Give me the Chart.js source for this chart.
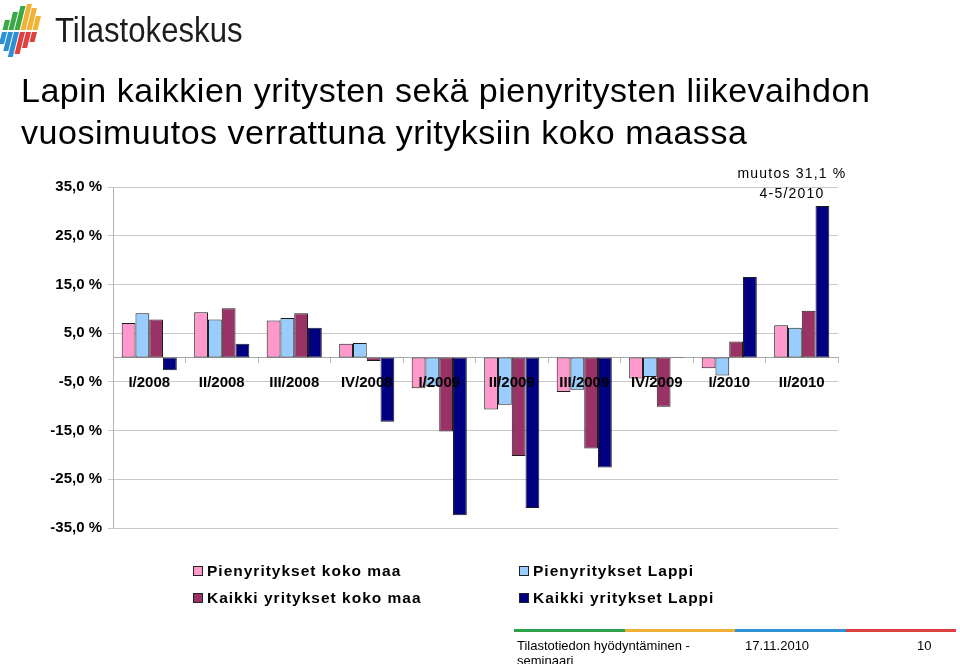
<!DOCTYPE html>
<html>
<head>
<meta charset="utf-8">
<script src="https://cdn.jsdelivr.net/npm/chart.js@4.4.1/dist/chart.umd.min.js"></script>
<style>
  html, body { margin: 0; padding: 0; background: #fff; }
  body { width: 960px; height: 664px; position: relative; overflow: hidden;
         font-family: "Liberation Sans", Arial, sans-serif; color: #000; }
  #chart { position: absolute; left: 0; top: 0; }
  .abs { position: absolute; white-space: nowrap; }
  #logoText { left: 55px; top: 10px; font-size: 35px; color: #1d1d1b;
              transform: scaleX(0.89); transform-origin: left top; }
  #title { left: 21px; top: 69px; font-size: 34px; line-height: 42px; letter-spacing: 0.52px; }
  #note { left: 692px; top: 163px; width: 200px; text-align: center; font-size: 14px;
          line-height: 20px; letter-spacing: 1.2px; }
  .leg { font-size: 15.5px; font-weight: bold; letter-spacing: 1.0px; line-height: 18px; }
  .leg i { display: inline-block; width: 8px; height: 8px; border: 1px solid #222;
           margin-right: 4px; vertical-align: 0px; }
  #footLine { left: 514px; top: 629px; width: 442px; height: 3px; display: flex; }
  #footLine span { flex: 1; }
  .foot { font-size: 13px; line-height: 15px; top: 638px; }
</style>
</head>
<body>
<canvas id="chart" width="960" height="664"></canvas>

<svg class="abs" style="left:0;top:0" width="52" height="60" viewBox="0 0 52 60">
  <g transform="skewX(-14)">
    <rect x="10" y="20" width="5" height="10" fill="#3aa843"/>
    <rect x="16" y="12" width="5" height="18" fill="#3aa843"/>
    <rect x="22" y="6"  width="5" height="24" fill="#3aa843"/>
    <rect x="28" y="4"  width="5" height="26" fill="#f2b233"/>
    <rect x="34" y="8"  width="5" height="22" fill="#f2b233"/>
    <rect x="40" y="16" width="5" height="14" fill="#f2b233"/>
    <rect x="10" y="32" width="5" height="12" fill="#2d8fd5"/>
    <rect x="16" y="32" width="5" height="19" fill="#2d8fd5"/>
    <rect x="22" y="32" width="5" height="25" fill="#2d8fd5"/>
    <rect x="28" y="32" width="5" height="22" fill="#e0413e"/>
    <rect x="34" y="32" width="5" height="16" fill="#e0413e"/>
    <rect x="40" y="32" width="5" height="10" fill="#e0413e"/>
  </g>
</svg>
<div id="logoText" class="abs">Tilastokeskus</div>

<div id="title" class="abs">Lapin kaikkien yritysten sekä pienyritysten liikevaihdon<br>vuosimuutos verrattuna yrityksiin koko maassa</div>

<div id="note" class="abs">muutos 31,1 %<br>4-5/2010</div>

<div id="legend"></div>

<div id="footLine" class="abs">
  <span style="background:#2ea24a"></span><span style="background:#f0b035"></span>
  <span style="background:#2f93d6"></span><span style="background:#dc4040"></span>
</div>
<div class="abs foot" style="left:517px">Tilastotiedon hyödyntäminen -<br>seminaari</div>
<div class="abs foot" style="left:745px">17.11.2010</div>
<div class="abs foot" style="left:917px">10</div>

<script>
// quarters on the x axis
const categories = ['I/2008', 'II/2008', 'III/2008', 'IV/2008', 'I/2009',
                    'II/2009', 'III/2009', 'IV/2009', 'I/2010', 'II/2010'];

// annual change, %
const pienKokoMaa   = [7.1, 9.3, 7.6, 2.8, -6.3, -10.7, -7.1, -4.3, -2.2, 6.6];
const pienLappi     = [9.1, 7.8, 8.1, 3.0, -5.9, -9.7, -6.6, -4.0, -3.7, 6.1];
const kaikkiKokoMaa = [7.8, 10.1, 9.1, -0.7, -15.2, -20.2, -18.7, -10.1, 3.3, 9.6];
const kaikkiLappi   = [-2.6, 2.8, 6.1, -13.2, -32.4, -30.9, -22.6, -0.1, 16.5, 31.1];

const seriesNames  = ['Pienyritykset koko maa', 'Pienyritykset Lappi',
                      'Kaikki yritykset koko maa', 'Kaikki yritykset Lappi'];
const seriesColors = ['#ff99cc', '#99ccff', '#993366', '#000080'];

// y axis
const yMin = -35;
const yMax = 35;
const yStep = 10;

const FONT = '"Liberation Sans", Arial, sans-serif';

const values = [pienKokoMaa, pienLappi, kaikkiKokoMaa, kaikkiLappi];

new Chart(document.getElementById('chart'), {
    type: 'bar',
    data: {
        labels: categories,
        datasets: values.map(function(v, i) {
            return {
                label: seriesNames[i],
                data: v,
                backgroundColor: seriesColors[i],
                borderColor: '#1c1c1c',
                borderWidth: 1,
                borderSkipped: false,
                categoryPercentage: 0.76,
                barPercentage: 1.0
            };
        })
    },
    options: {
        responsive: false,
        animation: false,
        layout: { padding: { left: 0, right: 122, top: 187, bottom: 136 } },
        plugins: {
            legend: { display: false },
            tooltip: { enabled: false }
        },
        scales: {
            x: {
                position: { y: 0 },
                grid: { drawOnChartArea: false, drawTicks: true, tickLength: 5, color: '#b8b8b8' },
                border: { display: true, color: '#a8a8a8' },
                ticks: {
                    z: 1, // labels go over the bars, as on the slide
                    padding: 11,
                    color: '#000',
                    font: { family: FONT, size: 15, weight: 'bold' }
                }
            },
            y: {
                min: yMin,
                max: yMax,
                afterFit: function(scale) { scale.width = 113; },
                grid: { color: '#c8c8c8', tickLength: 5 },
                border: { display: true, color: '#b4b4b4' },
                ticks: {
                    stepSize: yStep,
                    padding: 6,
                    color: '#000',
                    font: { family: FONT, size: 15, weight: 'bold' },
                    callback: function(value) {
                        return value.toFixed(1).replace('.', ',') + ' %';
                    }
                }
            }
        }
    }
});

// legend in two columns like the original slide
const legendPos = [[193, 562], [519, 562], [193, 589], [519, 589]];
const legendBox = document.getElementById('legend');
seriesNames.forEach(function(name, i) {
    const d = document.createElement('div');
    d.className = 'abs leg';
    d.style.left = legendPos[i][0] + 'px';
    d.style.top = legendPos[i][1] + 'px';
    d.innerHTML = '<i style="background:' + seriesColors[i] + '"></i>' + name;
    legendBox.appendChild(d);
});
</script>
</body>
</html>
